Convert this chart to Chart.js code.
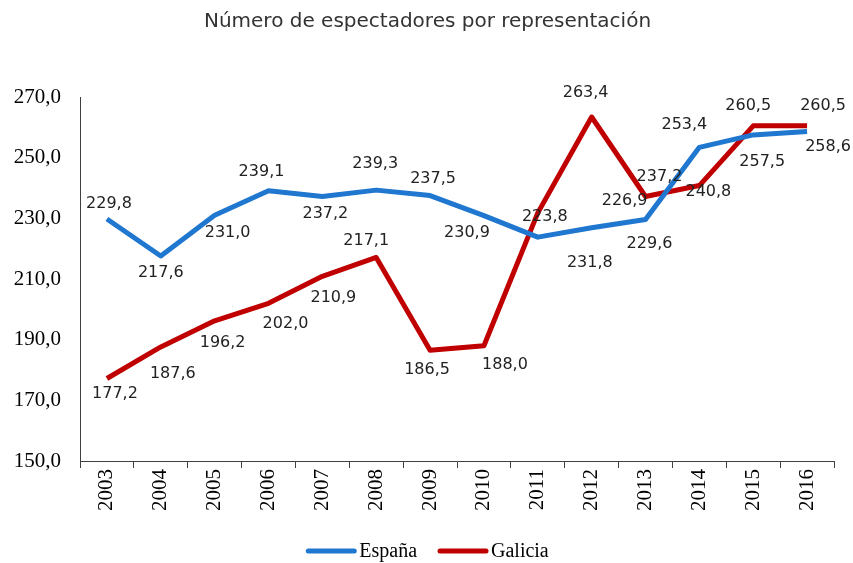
<!DOCTYPE html>
<html>
<head>
<meta charset="utf-8">
<script src="https://cdn.jsdelivr.net/npm/chart.js@4.4.1/dist/chart.umd.min.js"></script>
<style>
    html, body { margin: 0; padding: 0; background: #fff; }
    #wrap { width: 853px; height: 563px; }
</style>
</head>
<body>
<div id="wrap"><canvas id="chart" width="853" height="563"></canvas></div>
<script>
const years = ["2003", "2004", "2005", "2006", "2007", "2008", "2009", "2010", "2011", "2012", "2013", "2014", "2015", "2016"];
const espana = [229.8, 217.6, 231.0, 239.1, 237.2, 239.3, 237.5, 230.9, 223.8, 226.9, 229.6, 253.4, 257.5, 258.6];
const galicia = [177.2, 187.6, 196.2, 202.0, 210.9, 217.1, 186.5, 188.0, 231.8, 263.4, 237.2, 240.8, 260.5, 260.5];
const yTicks = [150, 170, 190, 210, 230, 250, 270];
const titleText = "Número de espectadores por representación";

// where each value label sits, relative to its point (px)
const labelShift = [
    [[2, -15], [0, 17], [13, 18], [-7, -19], [3, 17], [-1, -26], [3, -17], [-17, 17], [7, -20], [33, -27], [4, 24], [-15, -23], [9, 27], [21, 15]],
    [[8, 15], [12, 27], [8, 22], [17, 21], [11, 22], [-10, -17], [-3, 20], [21, 19], [52, 50], [-6, -24], [14, -20], [9, 6], [-5, -20], [16, -20]],
];

const fmt = (v) => v.toFixed(1).replace(".", ",");

const valueLabels = {
    id: "valueLabels",
    afterDatasetsDraw(chart) {
        const ctx = chart.ctx;
        ctx.save();
        ctx.font = "16px 'DejaVu Sans'";
        ctx.fillStyle = "#222";
        ctx.textAlign = "center";
        ctx.textBaseline = "middle";
        chart.data.datasets.forEach((ds, di) => {
            chart.getDatasetMeta(di).data.forEach((pt, i) => {
                const s = labelShift[di][i];
                ctx.fillText(fmt(ds.data[i]), pt.x + s[0], pt.y + s[1]);
            });
        });
        ctx.restore();
    },
};

// title on top and the line legend under the axis
const frame = {
    id: "frame",
    afterDraw(chart) {
        const ctx = chart.ctx;
        const mid = chart.width / 2 + 1;
        ctx.save();
        ctx.font = "20px 'DejaVu Sans'";
        ctx.fillStyle = "#333";
        ctx.textAlign = "center";
        ctx.textBaseline = "middle";
        ctx.fillText(titleText, mid, 22);

        ctx.font = "20px 'Liberation Serif'";
        ctx.textAlign = "left";
        const items = chart.data.datasets.map((ds) => ({
            label: ds.label,
            color: ds.borderColor,
            w: 50 + 3 + ctx.measureText(ds.label).width,
        }));
        const gap = 21;
        let x = mid - (items.reduce((a, it) => a + it.w, 0) + gap * (items.length - 1)) / 2;
        const y = 551;
        items.forEach((it) => {
            ctx.strokeStyle = it.color;
            ctx.lineWidth = 5;
            ctx.lineCap = "round";
            ctx.beginPath();
            ctx.moveTo(x + 2, y);
            ctx.lineTo(x + 48, y);
            ctx.stroke();
            ctx.fillStyle = "#000";
            ctx.fillText(it.label, x + 53, y + 1);
            x += it.w + gap;
        });
        ctx.restore();
    },
};

new Chart(document.getElementById("chart").getContext("2d"), {
    type: "line",
    data: {
        labels: years,
        datasets: [
            {
                label: "España",
                data: espana,
                borderColor: "#1f77d0",
                backgroundColor: "#1f77d0",
                borderWidth: 5,
                pointRadius: 0,
                tension: 0,
                borderJoinStyle: "round",
            },
            {
                label: "Galicia",
                data: galicia,
                borderColor: "#c00000",
                backgroundColor: "#c00000",
                borderWidth: 5,
                pointRadius: 0,
                tension: 0,
                borderJoinStyle: "round",
            },
        ],
    },
    options: {
        responsive: false,
        animation: false,
        layout: { padding: { left: 0, right: 19, top: 97, bottom: 48 } },
        plugins: {
            tooltip: { enabled: false },
            title: { display: false },
            legend: { display: false },
        },
        scales: {
            x: {
                offset: true,
                afterFit: (scale) => { scale.height = 54; },
                grid: {
                    offset: true,
                    drawOnChartArea: false,
                    drawTicks: true,
                    tickLength: 7,
                    color: "#404040",
                },
                border: { display: true, color: "#404040", width: 1 },
                ticks: {
                    color: "#000",
                    font: { family: "'Liberation Serif'", size: 21 },
                    minRotation: 90,
                    maxRotation: 90,
                    padding: 1,
                },
            },
            y: {
                min: 150,
                max: 270,
                afterFit: (scale) => { scale.width = 80; },
                afterBuildTicks: (scale) => { scale.ticks = yTicks.map((v) => ({ value: v })); },
                grid: { display: false, drawTicks: false },
                border: { display: true, color: "#404040", width: 1 },
                ticks: {
                    color: "#000",
                    font: { family: "'Liberation Serif'", size: 21 },
                    padding: 19,
                    callback: (v) => fmt(v),
                },
            },
        },
    },
    plugins: [valueLabels, frame],
});
</script>
</body>
</html>
